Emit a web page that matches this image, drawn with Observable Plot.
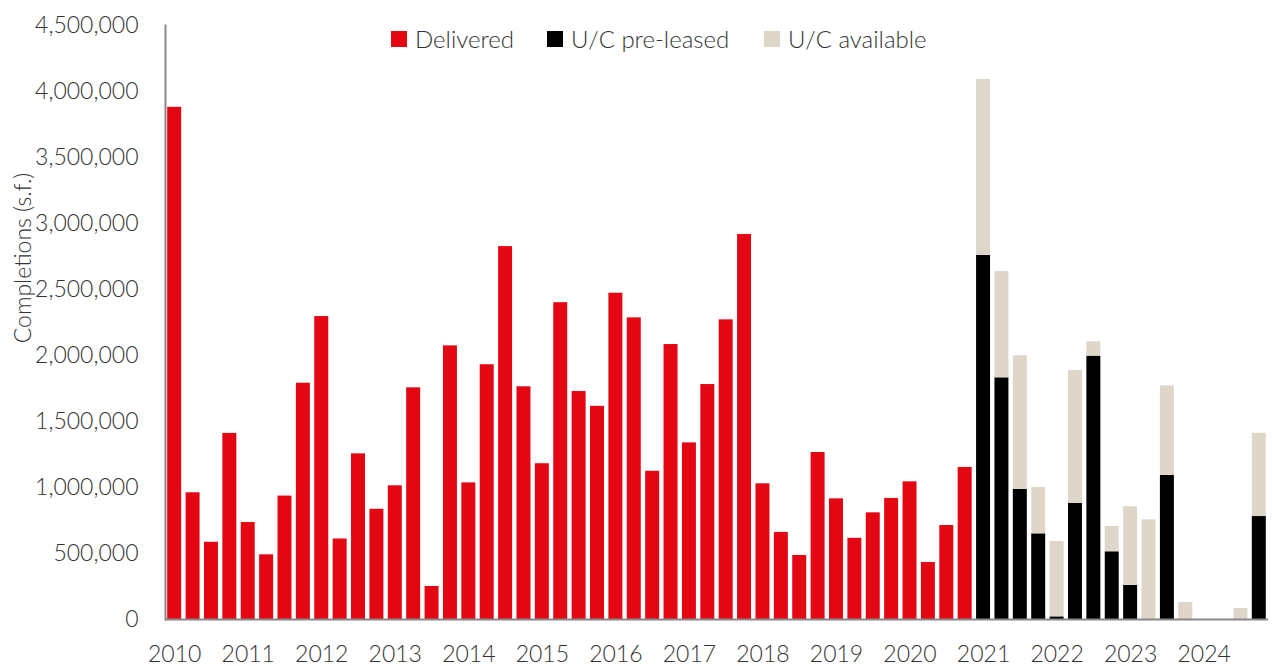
<!DOCTYPE html>
<html>
<head>
<meta charset="utf-8">
<script src="https://cdn.jsdelivr.net/npm/d3@7"></script>
<script src="https://cdn.jsdelivr.net/npm/@observablehq/plot@0.6"></script>
<style>
  html, body { margin: 0; padding: 0; background: #fff; }
  #wrap { position: relative; width: 1272px; height: 666px; font-family: Lato, "Open Sans", sans-serif; font-weight: 300; color: #333; }
  #legend { position: absolute; top: 24px; left: 391px; display: flex; align-items: center; font-size: 24px; }
  #legend .item { display: flex; align-items: center; }
  #legend .sw { width: 16px; height: 16px; margin-right: 8px; flex: none; }
  #ylabel { position: absolute; left: 22px; top: 258px; transform: translate(-50%, -50%) rotate(-90deg); white-space: nowrap; font-size: 23px; }
</style>
</head>
<body>
<div id="wrap"></div>
<script>
const years = d3.range(2010, 2025);
const quarters = years.flatMap(y => ["Q1","Q2","Q3","Q4"].map(q => y + q));

// Delivered, 2010Q1 - 2020Q4
const delivered = [
  3880000, 960000, 585000, 1410000,
  735000, 490000, 935000, 1790000,
  2295000, 610000, 1255000, 835000,
  1013000, 1755000, 250000, 2073000,
  1035000, 1930000, 2825000, 1763000,
  1180000, 2400000, 1727000, 1615000,
  2472000, 2285000, 1123000, 2083000,
  1338000, 1780000, 2270000, 2917000,
  1028000, 660000, 485000, 1265000,
  914000, 615000, 808000, 917000,
  1043000, 432000, 712000, 1152000
];
// Under construction, 2021Q1 - 2024Q4
const preleased = [
  2758000, 1831000, 985000, 649000,
  20000, 879000, 1995000, 513000,
  258000, 0, 1091000, 0,
  0, 0, 0, 780000
];
const available = [
  1333000, 805000, 1013000, 351000,
  571000, 1007000, 109000, 192000,
  596000, 755000, 679000, 129000,
  0, 0, 83000, 631000
];
const yTicks = d3.range(0, 4500001, 500000);
const seriesNames = ["Delivered", "U/C pre-leased", "U/C available"];
const seriesColors = ["#E30613", "#000000", "#DDD6C9"];
const yLabel = "Completions (s.f.)";

const rows = [];
delivered.forEach((v, i) => rows.push({q: quarters[i], s: seriesNames[0], v}));
preleased.forEach((v, i) => {
  rows.push({q: quarters[44 + i], s: seriesNames[1], v});
  rows.push({q: quarters[44 + i], s: seriesNames[2], v: available[i]});
});

const font = 'Lato, "Open Sans", sans-serif';
const chart = Plot.plot({
  width: 1272,
  height: 666,
  marginLeft: 165,
  marginRight: 4,
  marginTop: 25,
  marginBottom: 47,
  style: {fontFamily: font, fontSize: "23px", fontWeight: 300, color: "#333", background: "#fff"},
  x: {type: "band", domain: quarters, paddingInner: 0.24, paddingOuter: 0.12, round: false},
  y: {domain: [0, 4500000]},
  color: {domain: seriesNames, range: seriesColors},
  marks: [
    Plot.barY(rows, {x: "q", y: "v", fill: "s", z: "s", order: null}),
    Plot.axisY({ticks: yTicks, tickSize: 0, tickPadding: 27, tickFormat: d3.format(","), label: null, fontSize: 23}),
    Plot.axisX({ticks: quarters.filter(q => q.endsWith("Q1")), tickSize: 0, tickPadding: 26,
      tickFormat: d => d.slice(0, 4), label: null, fontSize: 23}),
    Plot.ruleY([0], {stroke: "#888", strokeWidth: 2}),
    Plot.frame({anchor: "left", stroke: "#888", strokeWidth: 2})
  ]
});

const wrap = document.getElementById("wrap");
wrap.appendChild(chart);
const legend = document.createElement("div");
legend.id = "legend";
const itemWidths = [156, 217, 200];
seriesNames.forEach((n, i) => {
  const it = document.createElement("div");
  it.className = "item";
  it.style.width = itemWidths[i] + "px";
  it.innerHTML = `<span class="sw" style="background:${seriesColors[i]}"></span><span>${n}</span>`;
  legend.appendChild(it);
});
wrap.appendChild(legend);
const yl = document.createElement("div");
yl.id = "ylabel";
yl.textContent = yLabel;
wrap.appendChild(yl);
</script>
</body>
</html>
